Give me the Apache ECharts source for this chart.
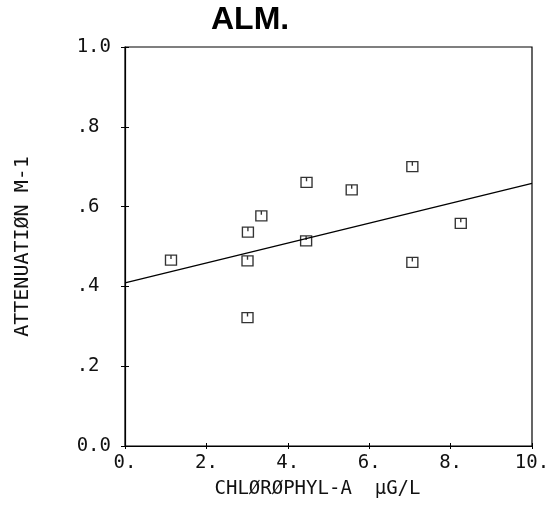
<!DOCTYPE html>
<html>
<head>
<meta charset="utf-8">
<script src="https://cdn.jsdelivr.net/npm/echarts@6/dist/echarts.min.js"></script>
<style>
  html, body { margin: 0; padding: 0; background: #fff; }
  #chart { width: 559px; height: 522px; }
</style>
</head>
<body>
<div id="chart"></div>
<script>
// Station ALM: light attenuation against chlorophyll-a
const chlorophyll = [1.13, 3.02, 3.35, 3.01, 3.01, 4.46, 4.45, 5.57, 7.06, 7.06, 8.25];
const attenuation = [0.466, 0.536, 0.577, 0.464, 0.322, 0.661, 0.514, 0.642, 0.700, 0.460, 0.558];

// Fitted regression line end points
const fitX = [0, 10];
const fitY = [0.409, 0.658];

const xTickLabels = { 0: '0.', 2: '2.', 4: '4.', 6: '6.', 8: '8.', 10: '10.' };
// Fixed-width plotter labels: fractional ticks keep a trailing blank
const yTickLabels = { '0': '0.0', '0.2': '.2 ', '0.4': '.4 ', '0.6': '.6 ', '0.8': '.8 ', '1': '1.0' };

const monoFont = '"DejaVu Sans Mono", "Liberation Mono", monospace';

// Square plotter marker with a small notch from the top edge
const marker = 'path://M0,0 L10,0 L10,10 L0,10 Z M5,0 L5,4';

const chart = echarts.init(document.getElementById('chart'), null, { renderer: 'canvas' });

const baseX = { type: 'value', min: 0, max: 10, interval: 2, splitLine: { show: false } };
const baseY = { type: 'value', min: 0, max: 1, interval: 0.2, splitLine: { show: false } };

chart.setOption({
  animation: false,
  backgroundColor: '#fff',
  title: {
    text: 'ALM.',
    left: 206,
    top: -1,
    textStyle: { fontFamily: '"Liberation Sans", Arial, sans-serif', fontWeight: 'bold', fontSize: 32, color: '#000' }
  },
  grid: {
    left: 125, right: 27, top: 47, bottom: 76,
    show: true, borderColor: '#000', borderWidth: 1.2, backgroundColor: 'transparent'
  },
  xAxis: [
    Object.assign({}, baseX, {
      position: 'bottom',
      name: 'CHLØRØPHYL-A  µG/L',
      nameLocation: 'middle',
      nameGap: 34,
      nameTextStyle: { fontFamily: monoFont, fontSize: 19, color: '#111', padding: [0, 22, 0, 0] },
      axisLine: { show: true, lineStyle: { color: '#000', width: 1.2 } },
      axisTick: { show: true, length: 3, lineStyle: { color: '#000' } },
      axisLabel: {
        fontFamily: monoFont, fontSize: 19, color: '#111', margin: 8,
        formatter: v => xTickLabels[v] !== undefined ? xTickLabels[v] : ''
      }
    }),
    Object.assign({}, baseX, {
      position: 'bottom',
      axisLine: { show: false },
      axisTick: { show: true, inside: true, length: 3, lineStyle: { color: '#000' } },
      axisLabel: { show: false }
    })
  ],
  yAxis: [
    Object.assign({}, baseY, {
      position: 'left',
      name: 'ATTENUATIØN M-1',
      nameLocation: 'middle',
      nameGap: 92,
      nameRotate: 90,
      nameTextStyle: { fontFamily: monoFont, fontSize: 20, color: '#111' },
      axisLine: { show: true, lineStyle: { color: '#000', width: 1.2 } },
      axisTick: { show: true, length: 4, lineStyle: { color: '#000' } },
      axisLabel: {
        fontFamily: monoFont, fontSize: 19, color: '#111', margin: 14,
        formatter: v => {
          const key = String(Math.round(v * 10) / 10);
          return yTickLabels[key] !== undefined ? yTickLabels[key] : '';
        }
      }
    }),
    Object.assign({}, baseY, {
      position: 'left',
      axisLine: { show: false },
      axisTick: { show: true, inside: true, length: 4, lineStyle: { color: '#000' } },
      axisLabel: { show: false }
    })
  ],
  series: [
    {
      type: 'line',
      data: fitX.map((x, i) => [x, fitY[i]]),
      symbol: 'none',
      lineStyle: { color: '#000', width: 1.3 },
      z: 2
    },
    {
      type: 'scatter',
      data: chlorophyll.map((x, i) => [x, attenuation[i]]),
      symbol: marker,
      symbolSize: [11, 10],
      itemStyle: { color: 'rgba(255,255,255,0)', borderColor: '#000', borderWidth: 1.3 },
      z: 3
    }
  ]
});
</script>
</body>
</html>
